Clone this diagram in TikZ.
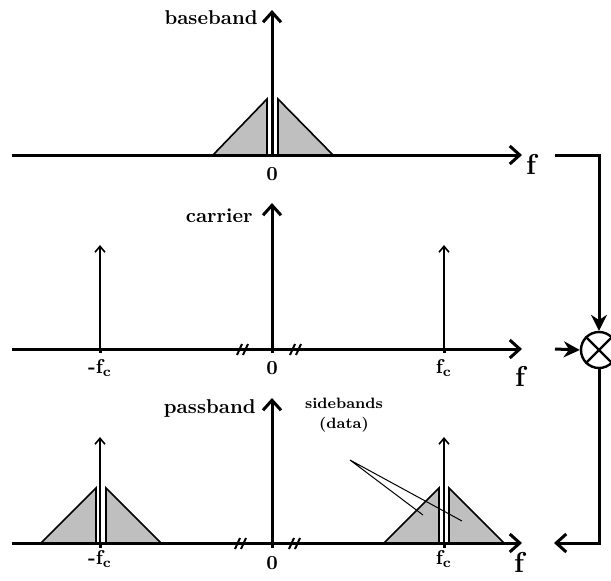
\documentclass[tikz,border=0pt]{standalone}
\usepackage{amsmath}
\usetikzlibrary{arrows.meta, positioning, calc}

\begin{document}
\begin{tikzpicture}[
        x=0.5pt, y=-0.5pt,
        font=\bfseries,
        axis/.style={draw, line width=1.5pt, -{Straight Barb[length=5pt, width=9pt, line width=1.5pt]}},
        impulse/.style={draw, line width=0.8pt, -{Straight Barb[length=3pt, width=5pt, line width=0.8pt]}},
        band/.style={draw, line width=0.8pt, fill=gray!50},
        brk/.style={draw, line width=1pt},
        line_arrow/.style={draw, line width=1.5pt, -{Stealth[length=8pt, width=8pt]}},
        back_arrow/.style={draw, line width=1.5pt, -{Straight Barb[length=5pt, width=9pt, line width=1.5pt]}},
        mixer/.style={draw, circle, line width=1.2pt, minimum size=18pt, inner sep=0pt},
        tick/.style={inner sep=1pt},
        axlabel/.style={anchor=east, inner sep=1pt},
        flabel/.style={font=\Large\bfseries, inner sep=0pt}
    ]
    \useasboundingbox (0,0) rectangle (611,580);

    % Baseband
    \coordinate (bb_l) at (12,155);
    \coordinate (bb_r) at (522,155);
    \coordinate (bb_0) at (272,155);
    \coordinate (bb_top) at (272,10);
    \draw[band] (213,155) -- (267,99) -- (267,155) -- cycle;
    \draw[band] (278,155) -- (278,99) -- (333,155) -- cycle;
    \draw[axis] (bb_l) -- (bb_r);
    \draw[axis] (bb_0) -- (bb_top);
    \node[axlabel] (bb_name) at (260,18) {baseband};
    \node[tick] (bb_zero) at (272,174) {0};
    \node[flabel] (bb_f) at (531,164) {f};

    % Carrier
    \coordinate (cr_l) at (12,349);
    \coordinate (cr_r) at (522,349);
    \coordinate (cr_0) at (272,349);
    \coordinate (cr_top) at (272,203);
    \draw[axis] (cr_l) -- (cr_r);
    \draw[axis] (cr_0) -- (cr_top);
    \draw[impulse] (100,349) -- (100,245);
    \draw[impulse] (444,349) -- (444,245);
    \draw[line width=1.5pt] (100,349) -- (100,353) (444,349) -- (444,353) (272,349) -- (272,353);
    \foreach \bx in {245,298}{
        \draw[brk] (\bx-8,355) -- (\bx-3,344);
        \draw[brk] (\bx-2,355) -- (\bx+3,344);
    }
    \node[axlabel] (cr_name) at (255,216) {carrier};
    \node[tick] (cr_mfc) at (100,368) {-f$_{\mathbf{c}}$};
    \node[tick] (cr_zero) at (272,368) {0};
    \node[tick] (cr_fc) at (444,368) {f$_{\mathbf{c}}$};
    \node[flabel] (cr_f) at (520,376) {f};

    % Passband
    \coordinate (pb_l) at (12,543);
    \coordinate (pb_r) at (522,543);
    \coordinate (pb_0) at (272,543);
    \coordinate (pb_top) at (272,398);
    \draw[band] (41,543) -- (96,488) -- (96,543) -- cycle;
    \draw[band] (106,543) -- (106,488) -- (161,543) -- cycle;
    \draw[band] (384,543) -- (439,488) -- (439,543) -- cycle;
    \draw[band] (449,543) -- (449,488) -- (504,543) -- cycle;
    \draw[axis] (pb_l) -- (pb_r);
    \draw[axis] (pb_0) -- (pb_top);
    \draw[impulse] (100,543) -- (100,437);
    \draw[impulse] (444,543) -- (444,437);
    \draw[line width=1.5pt] (100,543) -- (100,548) (444,543) -- (444,548) (272,543) -- (272,548);
    \foreach \bx in {243,297}{
        \draw[brk] (\bx-8,549) -- (\bx-3,538);
        \draw[brk] (\bx-2,549) -- (\bx+3,538);
    }
    \node[axlabel] (pb_name) at (258,408) {passband};
    \node[tick] (pb_mfc) at (100,559) {-f$_{\mathbf{c}}$};
    \node[tick] (pb_zero) at (272,563) {0};
    \node[tick] (pb_fc) at (444,559) {f$_{\mathbf{c}}$};
    \node[flabel] (pb_f) at (519,562) {f};

    % Sidebands
    \node[font=\fontsize{7.5}{10}\selectfont\bfseries, align=center, inner sep=1pt] (side) at (344,415) {sidebands\\(data)};
    \coordinate (side_pt) at (350,460);
    \coordinate (side_a) at (423,515);
    \coordinate (side_b) at (462,521);
    \draw[line width=0.5pt] (side_a) -- (side_pt) -- (side_b);

    % Mixer
    \node[mixer] (mix) at (599,350) {};
    \draw[line width=1.2pt] (mix.north west) -- (mix.south east);
    \draw[line width=1.2pt] (mix.north east) -- (mix.south west);
    \coordinate (bb_out) at (555,155);
    \coordinate (cr_out) at (555,349);
    \coordinate (pb_in) at (554,543);
    \draw[line_arrow] (bb_out) -| (mix.north);
    \draw[line_arrow] (cr_out) -- (mix.west);
    \draw[back_arrow] (mix.south) |- (pb_in);

\end{tikzpicture}
\end{document}
